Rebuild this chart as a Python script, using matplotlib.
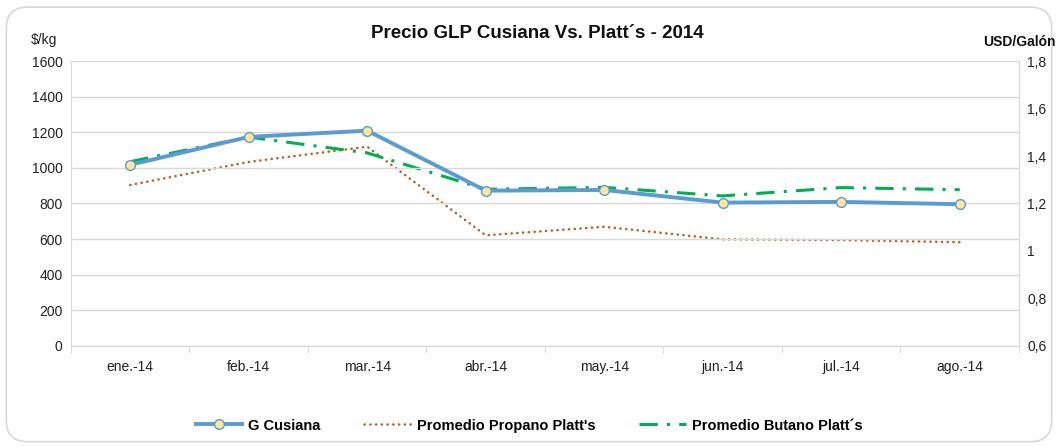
import matplotlib
matplotlib.use("Agg")
import matplotlib.pyplot as plt
from matplotlib.patches import FancyBboxPatch
from matplotlib.ticker import FixedLocator, FuncFormatter
import numpy as np

plt.rcParams['font.family'] = ['Liberation Sans', 'DejaVu Sans']

# datos
meses = ["ene.-14", "feb.-14", "mar.-14", "abr.-14", "may.-14", "jun.-14", "jul.-14", "ago.-14"]
g_cusiana = [1017, 1174, 1209, 872, 876, 805, 809, 796]          # $/kg
propano = [1.278, 1.375, 1.439, 1.066, 1.102, 1.049, 1.046, 1.037]  # USD/Galon
butano = [1.376, 1.480, 1.413, 1.260, 1.268, 1.232, 1.267, 1.258]   # USD/Galon

x = np.arange(len(meses))
grid_c = "#d9d9d9"

fig = plt.figure(figsize=(10.58, 4.47), dpi=100)
# borde redondeado del grafico
borde = FancyBboxPatch((0.006, 0.012), 0.988, 0.972, boxstyle="round,pad=0,rounding_size=0.02",
                       transform=fig.transFigure, facecolor="white", edgecolor="#d9d9d9", lw=1.2,
                       mutation_aspect=1058 / 447, zorder=-5)
fig.patches.append(borde)

ax = fig.add_axes([0.0671, 0.226, 0.8960, 0.6375])
ax2 = ax.twinx()
ax.patch.set_alpha(0)
ax2.patch.set_alpha(0)

ax.set_xlim(-0.5, len(meses) - 0.5)
ax.set_ylim(0, 1600)
ax.set_yticks(np.arange(0, 1601, 200))
ax2.set_ylim(0.6, 1.8)
ax2.set_yticks([0.6, 0.8, 1.0, 1.2, 1.4, 1.6, 1.8])
ax2.yaxis.set_major_formatter(FuncFormatter(lambda v, p: ("%g" % round(v, 1)).replace(".", ",")))

ax.grid(axis="y", color=grid_c, lw=1)
ax.set_axisbelow(True)
for a in (ax, ax2):
    for s in a.spines.values():
        s.set_color(grid_c)
    a.spines["top"].set_visible(False)
    a.tick_params(axis="y", length=0, labelsize=10, colors="#222222", pad=6)

ax.set_xticks(x)
ax.set_xticklabels(meses)
ax.xaxis.set_minor_locator(FixedLocator(np.arange(-0.5, len(meses), 1)))
ax.tick_params(axis="x", which="major", length=0, labelsize=10, colors="#222222", pad=10)
ax.tick_params(axis="x", which="minor", length=5, color=grid_c)

l1, = ax.plot(x, g_cusiana, color="#5B9BD5", lw=2.8, marker="o", markersize=7,
              markerfacecolor="#FFE699", markeredgecolor="#5B9BD5", markeredgewidth=1,
              label="G Cusiana", zorder=4)
l2, = ax2.plot(x, propano, color="#C55A11", lw=1.8, ls=(0, (0.1, 2.2)), dash_capstyle="round",
               label="Promedio Propano Platt's", zorder=3)
l3, = ax2.plot(x, butano, color="#00B050", lw=2.2, ls=(0, (6, 3, 1, 3)), label="Promedio Butano Platt´s", zorder=3)
ax.set_zorder(ax2.get_zorder() + 1)

fig.text(0.508, 0.925, "Precio GLP Cusiana Vs. Platt´s - 2014", ha="center", va="center",
         fontsize=13.5, fontweight="bold", color="#111111")
fig.text(0.042, 0.91, "$/kg", ha="center", va="center", fontsize=10, color="#222222")
fig.text(0.998, 0.905, "USD/Galón", ha="right", va="center", fontsize=10, fontweight="bold", color="#111111")

leg = fig.legend(handles=[l1, l2, l3], loc="center", bbox_to_anchor=(0.5, 0.048), ncol=3,
                 frameon=False, prop={"weight": "bold", "size": 10.5}, handlelength=3.2,
                 columnspacing=3.0, handletextpad=0.4)

fig.savefig("out.png", dpi=100)
